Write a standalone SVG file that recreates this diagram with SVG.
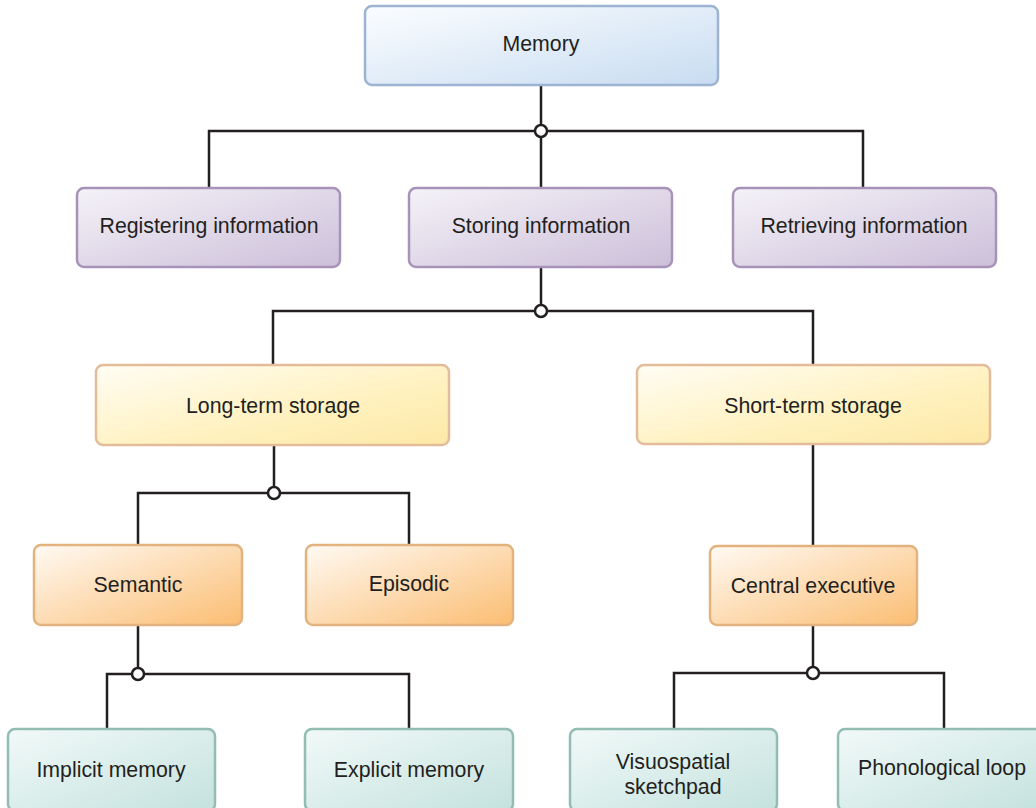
<svg xmlns="http://www.w3.org/2000/svg" width="1036" height="808" viewBox="0 0 1036 808">
  <defs>
    <linearGradient id="gBlue" x1="0" y1="0" x2="1" y2="1">
      <stop offset="0" stop-color="#fbfdff"/>
      <stop offset="1" stop-color="#c8dcf1"/>
    </linearGradient>
    <linearGradient id="gPurple" x1="0" y1="0" x2="1" y2="1">
      <stop offset="0" stop-color="#f5f2f8"/>
      <stop offset="1" stop-color="#ccbfd9"/>
    </linearGradient>
    <linearGradient id="gYellow" x1="0" y1="0" x2="1" y2="1">
      <stop offset="0" stop-color="#fffdf4"/>
      <stop offset="0.6" stop-color="#fff1bf"/>
      <stop offset="1" stop-color="#fde9a6"/>
    </linearGradient>
    <linearGradient id="gOrange" x1="0" y1="0" x2="1" y2="1">
      <stop offset="0" stop-color="#fffaf4"/>
      <stop offset="1" stop-color="#fbbd72"/>
    </linearGradient>
    <linearGradient id="gTeal" x1="0" y1="0" x2="1" y2="1">
      <stop offset="0" stop-color="#f1f9f8"/>
      <stop offset="1" stop-color="#c4e2de"/>
    </linearGradient>
  </defs>
  <style>
    .box { stroke-width: 2.5; }
    .blue { fill: url(#gBlue); stroke: #9db3d2; }
    .purple { fill: url(#gPurple); stroke: #a793b9; }
    .yellow { fill: url(#gYellow); stroke: #e3bc9a; }
    .orange { fill: url(#gOrange); stroke: #e2b37f; }
    .teal { fill: url(#gTeal); stroke: #93bdb2; }
    text { font-family: "Liberation Sans", Arial, sans-serif; font-size: 21.3px; fill: #231f20; text-anchor: middle; }
    .wire { fill: none; stroke: #231f20; stroke-width: 2.5; }
    .dot { fill: #ffffff; stroke: #231f20; stroke-width: 2.5; }
  </style>

  <!-- connectors -->
  <g id="connectors">
    <path class="wire" d="M541 85 V188 M209 188 V131 H863 V188"/>
    <path class="wire" d="M541 268 V311 M273 365 V311 H813 V365"/>
    <path class="wire" d="M274 445 V493 M138 545 V493 H409 V545"/>
    <path class="wire" d="M813 444 V546"/>
    <path class="wire" d="M138 625 V674 M107 729 V674 H409 V729"/>
    <path class="wire" d="M813 625 V673 M674 729 V673 H944 V729"/>
    <circle class="dot" cx="541" cy="131" r="6"/>
    <circle class="dot" cx="541" cy="311" r="6"/>
    <circle class="dot" cx="274" cy="493" r="6"/>
    <circle class="dot" cx="138" cy="674" r="6"/>
    <circle class="dot" cx="813" cy="673" r="6"/>
  </g>

  <g id="memory">
    <rect class="box blue" x="365" y="6" width="353" height="79" rx="7"/>
    <text x="541" y="51">Memory</text>
  </g>

  <g id="registering">
    <rect class="box purple" x="77" y="188" width="263" height="79" rx="7"/>
    <text x="209" y="233">Registering information</text>
  </g>
  <g id="storing">
    <rect class="box purple" x="409" y="188" width="263" height="79" rx="7"/>
    <text x="541" y="233">Storing information</text>
  </g>
  <g id="retrieving">
    <rect class="box purple" x="733" y="188" width="263" height="79" rx="7"/>
    <text x="864" y="233">Retrieving information</text>
  </g>

  <g id="long-term">
    <rect class="box yellow" x="96" y="365" width="353" height="80" rx="7"/>
    <text x="273" y="413">Long-term storage</text>
  </g>
  <g id="short-term">
    <rect class="box yellow" x="637" y="365" width="353" height="79" rx="7"/>
    <text x="813" y="413">Short-term storage</text>
  </g>

  <g id="semantic">
    <rect class="box orange" x="34" y="545" width="208" height="80" rx="7"/>
    <text x="138" y="592">Semantic</text>
  </g>
  <g id="episodic">
    <rect class="box orange" x="306" y="545" width="207" height="80" rx="7"/>
    <text x="409" y="591">Episodic</text>
  </g>
  <g id="central-executive">
    <rect class="box orange" x="710" y="546" width="207" height="79" rx="7"/>
    <text x="813" y="593">Central executive</text>
  </g>

  <g id="implicit">
    <rect class="box teal" x="8" y="729" width="207" height="82" rx="7"/>
    <text x="111" y="777">Implicit memory</text>
  </g>
  <g id="explicit">
    <rect class="box teal" x="305" y="729" width="208" height="82" rx="7"/>
    <text x="409" y="777">Explicit memory</text>
  </g>
  <g id="visuospatial">
    <rect class="box teal" x="570" y="729" width="207" height="82" rx="7"/>
    <text x="673" y="769">Visuospatial</text>
    <text x="673" y="794">sketchpad</text>
  </g>
  <g id="phonological">
    <rect class="box teal" x="838" y="729" width="208" height="82" rx="7"/>
    <text x="942" y="775">Phonological loop</text>
  </g>
</svg>
